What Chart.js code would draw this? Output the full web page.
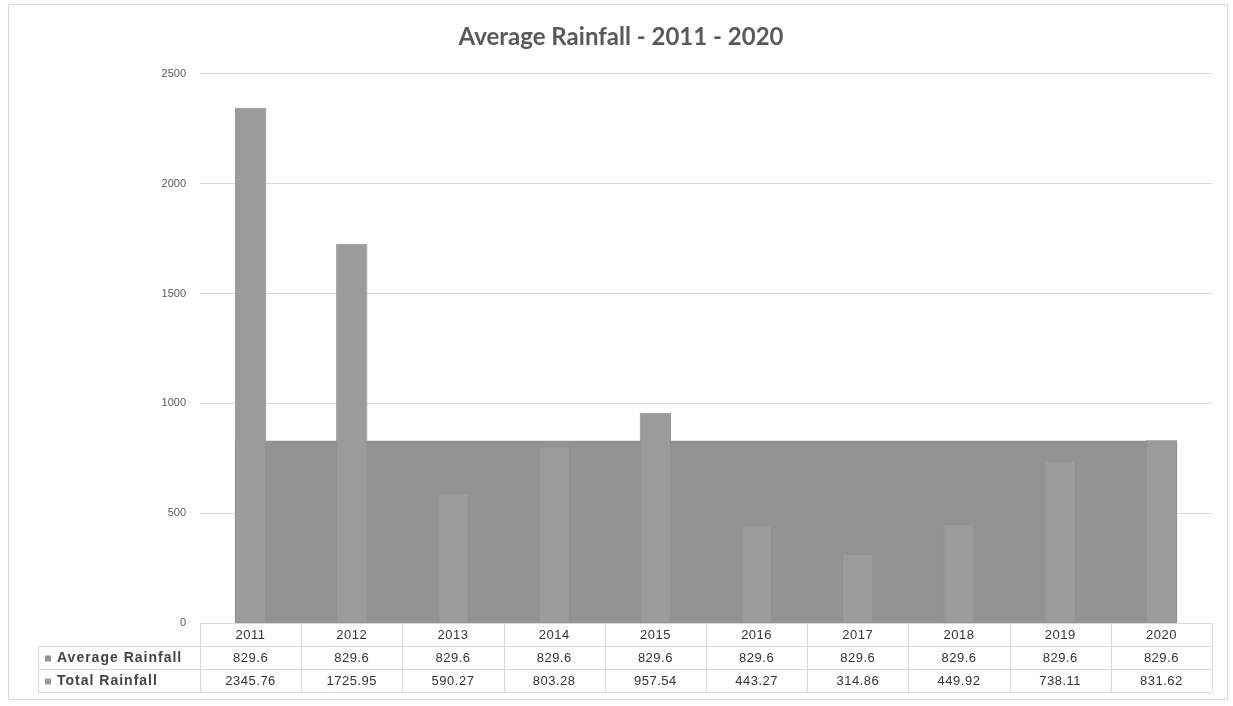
<!DOCTYPE html>
<html>
<head>
<meta charset="utf-8">
<script src="https://cdn.jsdelivr.net/npm/chart.js@4"></script>
<style>
  html, body { margin: 0; padding: 0; background: #ffffff; }
  #wrap { width: 1233px; height: 706px; position: relative; }
</style>
</head>
<body>
<div id="wrap"><canvas id="c" width="1233" height="706"></canvas></div>
<script>
const categories = ['2011','2012','2013','2014','2015','2016','2017','2018','2019','2020'];
const averageRainfall = [829.6,829.6,829.6,829.6,829.6,829.6,829.6,829.6,829.6,829.6];
const totalRainfall = [2345.76,1725.95,590.27,803.28,957.54,443.27,314.86,449.92,738.11,831.62];
const averageLabels = ['829.6','829.6','829.6','829.6','829.6','829.6','829.6','829.6','829.6','829.6'];
const totalLabels = ['2345.76','1725.95','590.27','803.28','957.54','443.27','314.86','449.92','738.11','831.62'];
const yTicks = [0, 500, 1000, 1500, 2000, 2500];
const seriesNames = ['Average Rainfall', 'Total Rainfall'];

const AREA_COLOR = '#939393';
const BAR_COLOR = '#9b9b9b';
const LINE_COLOR = '#d9d9d9';
const TEXT_COLOR = '#333333';

// Draws the average series as a filled area spanning the bars (stepped, from its own dataset points)
const areaPlugin = {
  id: 'areaPlugin',
  beforeDatasetsDraw(chart) {
    const avgMeta = chart.getDatasetMeta(0);
    const barMeta = chart.getDatasetMeta(1);
    const yScale = chart.scales.y;
    const ctx = chart.ctx;
    const n = avgMeta.data.length;
    if (!n) return;
    const half = barMeta.data[0].width / 2;
    const base = yScale.getPixelForValue(0);
    const xs = avgMeta.data.map(p => p.x);
    ctx.save();
    ctx.beginPath();
    const left = xs[0] - half, right = xs[n - 1] + half;
    ctx.moveTo(left, base);
    for (let i = 0; i < n; i++) {
      const y = avgMeta.data[i].y;
      const x0 = i === 0 ? left : (xs[i - 1] + xs[i]) / 2;
      const x1 = i === n - 1 ? right : (xs[i] + xs[i + 1]) / 2;
      ctx.lineTo(x0, y);
      ctx.lineTo(x1, y);
    }
    ctx.lineTo(right, base);
    ctx.closePath();
    ctx.fillStyle = AREA_COLOR;
    ctx.fill();
    ctx.restore();
  }
};

// Data table under the plot, aligned to the category scale
const tablePlugin = {
  id: 'tablePlugin',
  afterDraw(chart) {
    const ctx = chart.ctx;
    const xScale = chart.scales.x;
    const area = chart.chartArea;
    const n = categories.length;
    const step = xScale.getPixelForValue(1) - xScale.getPixelForValue(0);
    const top = area.bottom;
    const rowH = 23;
    const headLeft = 38;
    ctx.save();
    ctx.strokeStyle = LINE_COLOR;
    ctx.lineWidth = 1;
    ctx.beginPath();
    ctx.moveTo(area.left, top + 0.5); ctx.lineTo(area.right, top + 0.5);
    for (let r = 1; r <= 3; r++) {
      const y = Math.round(top + r * rowH) + 0.5;
      ctx.moveTo(headLeft, y); ctx.lineTo(area.right, y);
    }
    for (let i = 0; i <= n; i++) {
      const x = Math.round(xScale.getPixelForValue(i) - step / 2) + 0.5;
      ctx.moveTo(x, top); ctx.lineTo(x, top + 3 * rowH);
    }
    ctx.moveTo(headLeft + 0.5, top + rowH); ctx.lineTo(headLeft + 0.5, top + 3 * rowH);
    ctx.stroke();

    ctx.fillStyle = TEXT_COLOR;
    ctx.textBaseline = 'middle';
    ctx.textAlign = 'center';
    ctx.font = '13px "Liberation Sans", Arial, sans-serif';
    if ('letterSpacing' in ctx) ctx.letterSpacing = '0.5px';
    for (let i = 0; i < n; i++) {
      const x = xScale.getPixelForValue(i);
      ctx.fillText(categories[i], x, top + rowH * 0.5 + 1);
      ctx.fillText(averageLabels[i], x, top + rowH * 1.5 + 1);
      ctx.fillText(totalLabels[i], x, top + rowH * 2.5 + 1);
    }
    ctx.textAlign = 'left';
    ctx.font = 'bold 14px "Liberation Sans", Arial, sans-serif';
    if ('letterSpacing' in ctx) ctx.letterSpacing = '1px';
    const keyColors = [AREA_COLOR, BAR_COLOR];
    for (let r = 0; r < 2; r++) {
      const cy = top + rowH * (1.5 + r) + 1;
      ctx.fillStyle = keyColors[r];
      ctx.fillRect(headLeft + 7, cy - 3, 6, 6);
      ctx.fillStyle = '#444444';
      ctx.fillText(seriesNames[r], headLeft + 19, cy);
    }
    if ('letterSpacing' in ctx) ctx.letterSpacing = '0px';
    ctx.strokeStyle = '#d9d9d9';
    ctx.strokeRect(8.5, 4.5, 1219, 695);
    ctx.restore();
  }
};

new Chart(document.getElementById('c'), {
  data: {
    labels: categories,
    datasets: [
      {
        type: 'line',
        label: seriesNames[0],
        data: averageRainfall,
        showLine: false,
        pointRadius: 0,
        pointHoverRadius: 0,
        order: 2
      },
      {
        type: 'bar',
        label: seriesNames[1],
        data: totalRainfall,
        backgroundColor: BAR_COLOR,
        borderColor: '#8f8f8f',
        borderWidth: 1,
        barPercentage: 0.31,
        categoryPercentage: 1.0,
        order: 1
      }
    ]
  },
  options: {
    responsive: false,
    animation: false,
    events: [],
    layout: { padding: { left: 30, right: 21, top: 0, bottom: 83 } },
    plugins: {
      legend: { display: false },
      tooltip: { enabled: false },
      title: {
        display: true,
        text: 'Average Rainfall - 2011 - 2020',
        color: '#595959',
        font: { family: 'Lato, "Open Sans", sans-serif', size: 24, weight: 'bold' },
        padding: { top: 23, bottom: 22 }
      }
    },
    scales: {
      x: {
        type: 'category',
        display: false,
        offset: true,
        grid: { display: false }
      },
      y: {
        min: 0,
        max: 2500,
        afterBuildTicks(scale) { scale.ticks = yTicks.map(v => ({ value: v })); },
        afterFit(scale) { scale.width = 170; },
        border: { display: false },
        grid: { color: LINE_COLOR, drawTicks: false, lineWidth: 1 },
        ticks: {
          color: '#595959',
          font: { family: '"Liberation Sans", Arial, sans-serif', size: 11 },
          padding: 14,
          callback: (v) => String(v)
        }
      }
    }
  },
  plugins: [areaPlugin, tablePlugin]
});
</script>
</body>
</html>
